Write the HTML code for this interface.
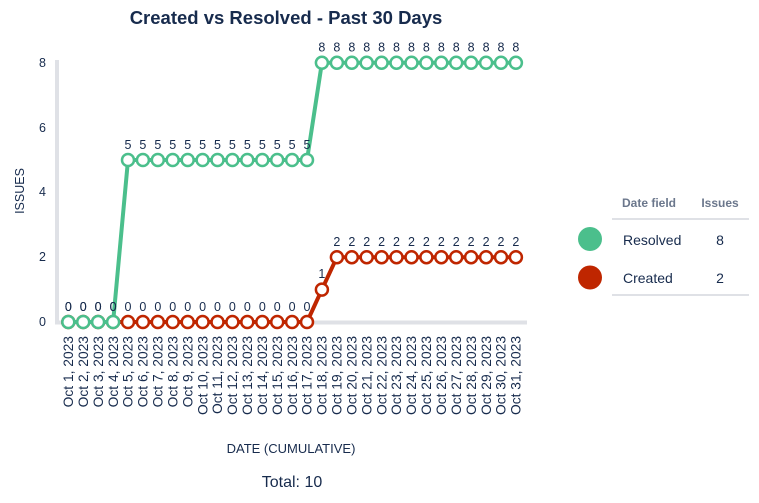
<!DOCTYPE html>
<html><head><meta charset="utf-8"><style>
html,body{margin:0;padding:0;background:#fff;}
svg{display:block;font-family:"Liberation Sans",sans-serif;}
</style></head><body>
<svg width="759" height="503" viewBox="0 0 759 503" xmlns="http://www.w3.org/2000/svg">
<text x="286" y="24" text-anchor="middle" font-size="18.5" font-weight="bold" fill="#172B4D">Created vs Resolved - Past 30 Days</text>
<!-- axes -->
<line x1="57" y1="60" x2="57" y2="323" stroke="#DFE1E6" stroke-width="4"/>
<line x1="55" y1="322.5" x2="527" y2="322.5" stroke="#DFE1E6" stroke-width="4"/>
<g font-size="12.5" fill="#172B4D" text-anchor="end">
<text x="46" y="326">0</text><text x="46" y="261">2</text><text x="46" y="196">4</text><text x="46" y="132">6</text><text x="46" y="67">8</text>
</g>
<text transform="translate(24,191) rotate(-90)" text-anchor="middle" font-size="12.5" fill="#172B4D">ISSUES</text>
<!-- red series -->
<polyline fill="none" stroke="#BF2600" stroke-width="4" stroke-linejoin="round" points="68.3,322 83.2,322 98.1,322 113.1,322 128,322 142.9,322 157.8,322 172.7,322 187.7,322 202.6,322 217.5,322 232.4,322 247.3,322 262.3,322 277.2,322 292.1,322 307,322 321.9,289.6 336.9,257.2 351.8,257.2 366.7,257.2 381.6,257.2 396.5,257.2 411.5,257.2 426.4,257.2 441.3,257.2 456.2,257.2 471.1,257.2 486.1,257.2 501,257.2 515.9,257.2"/>
<g fill="#fff" stroke="#BF2600" stroke-width="2.5">
<circle cx="68.3" cy="322" r="6"/><circle cx="83.2" cy="322" r="6"/><circle cx="98.1" cy="322" r="6"/><circle cx="113.1" cy="322" r="6"/><circle cx="128" cy="322" r="6"/><circle cx="142.9" cy="322" r="6"/><circle cx="157.8" cy="322" r="6"/><circle cx="172.7" cy="322" r="6"/><circle cx="187.7" cy="322" r="6"/><circle cx="202.6" cy="322" r="6"/><circle cx="217.5" cy="322" r="6"/><circle cx="232.4" cy="322" r="6"/><circle cx="247.3" cy="322" r="6"/><circle cx="262.3" cy="322" r="6"/><circle cx="277.2" cy="322" r="6"/><circle cx="292.1" cy="322" r="6"/><circle cx="307" cy="322" r="6"/><circle cx="321.9" cy="289.6" r="6"/><circle cx="336.9" cy="257.2" r="6"/><circle cx="351.8" cy="257.2" r="6"/><circle cx="366.7" cy="257.2" r="6"/><circle cx="381.6" cy="257.2" r="6"/><circle cx="396.5" cy="257.2" r="6"/><circle cx="411.5" cy="257.2" r="6"/><circle cx="426.4" cy="257.2" r="6"/><circle cx="441.3" cy="257.2" r="6"/><circle cx="456.2" cy="257.2" r="6"/><circle cx="471.1" cy="257.2" r="6"/><circle cx="486.1" cy="257.2" r="6"/><circle cx="501" cy="257.2" r="6"/><circle cx="515.9" cy="257.2" r="6"/>
</g>
<!-- green series -->
<polyline fill="none" stroke="#4BBF8C" stroke-width="4" stroke-linejoin="round" points="68.3,322 83.2,322 98.1,322 113.1,322 128,160 142.9,160 157.8,160 172.7,160 187.7,160 202.6,160 217.5,160 232.4,160 247.3,160 262.3,160 277.2,160 292.1,160 307,160 321.9,62.8 336.9,62.8 351.8,62.8 366.7,62.8 381.6,62.8 396.5,62.8 411.5,62.8 426.4,62.8 441.3,62.8 456.2,62.8 471.1,62.8 486.1,62.8 501,62.8 515.9,62.8"/>
<g fill="#fff" stroke="#4BBF8C" stroke-width="2.5">
<circle cx="68.3" cy="322" r="6"/><circle cx="83.2" cy="322" r="6"/><circle cx="98.1" cy="322" r="6"/><circle cx="113.1" cy="322" r="6"/><circle cx="128" cy="160" r="6"/><circle cx="142.9" cy="160" r="6"/><circle cx="157.8" cy="160" r="6"/><circle cx="172.7" cy="160" r="6"/><circle cx="187.7" cy="160" r="6"/><circle cx="202.6" cy="160" r="6"/><circle cx="217.5" cy="160" r="6"/><circle cx="232.4" cy="160" r="6"/><circle cx="247.3" cy="160" r="6"/><circle cx="262.3" cy="160" r="6"/><circle cx="277.2" cy="160" r="6"/><circle cx="292.1" cy="160" r="6"/><circle cx="307" cy="160" r="6"/><circle cx="321.9" cy="62.8" r="6"/><circle cx="336.9" cy="62.8" r="6"/><circle cx="351.8" cy="62.8" r="6"/><circle cx="366.7" cy="62.8" r="6"/><circle cx="381.6" cy="62.8" r="6"/><circle cx="396.5" cy="62.8" r="6"/><circle cx="411.5" cy="62.8" r="6"/><circle cx="426.4" cy="62.8" r="6"/><circle cx="441.3" cy="62.8" r="6"/><circle cx="456.2" cy="62.8" r="6"/><circle cx="471.1" cy="62.8" r="6"/><circle cx="486.1" cy="62.8" r="6"/><circle cx="501" cy="62.8" r="6"/><circle cx="515.9" cy="62.8" r="6"/>
</g>
<!-- data labels -->
<g font-size="12.5" fill="#172B4D" text-anchor="middle">
<text x="68.3" y="311">0</text><text x="83.2" y="311">0</text><text x="98.1" y="311">0</text><text x="113.1" y="311">0</text><text x="128" y="311">0</text><text x="142.9" y="311">0</text><text x="157.8" y="311">0</text><text x="172.7" y="311">0</text><text x="187.7" y="311">0</text><text x="202.6" y="311">0</text><text x="217.5" y="311">0</text><text x="232.4" y="311">0</text><text x="247.3" y="311">0</text><text x="262.3" y="311">0</text><text x="277.2" y="311">0</text><text x="292.1" y="311">0</text><text x="307" y="311">0</text><text x="321.9" y="278">1</text><text x="336.9" y="246">2</text><text x="351.8" y="246">2</text><text x="366.7" y="246">2</text><text x="381.6" y="246">2</text><text x="396.5" y="246">2</text><text x="411.5" y="246">2</text><text x="426.4" y="246">2</text><text x="441.3" y="246">2</text><text x="456.2" y="246">2</text><text x="471.1" y="246">2</text><text x="486.1" y="246">2</text><text x="501" y="246">2</text><text x="515.9" y="246">2</text>
<text x="68.3" y="311">0</text><text x="83.2" y="311">0</text><text x="98.1" y="311">0</text><text x="113.1" y="311">0</text><text x="128" y="149">5</text><text x="142.9" y="149">5</text><text x="157.8" y="149">5</text><text x="172.7" y="149">5</text><text x="187.7" y="149">5</text><text x="202.6" y="149">5</text><text x="217.5" y="149">5</text><text x="232.4" y="149">5</text><text x="247.3" y="149">5</text><text x="262.3" y="149">5</text><text x="277.2" y="149">5</text><text x="292.1" y="149">5</text><text x="307" y="149">5</text><text x="321.9" y="51.5">8</text><text x="336.9" y="51.5">8</text><text x="351.8" y="51.5">8</text><text x="366.7" y="51.5">8</text><text x="381.6" y="51.5">8</text><text x="396.5" y="51.5">8</text><text x="411.5" y="51.5">8</text><text x="426.4" y="51.5">8</text><text x="441.3" y="51.5">8</text><text x="456.2" y="51.5">8</text><text x="471.1" y="51.5">8</text><text x="486.1" y="51.5">8</text><text x="501" y="51.5">8</text><text x="515.9" y="51.5">8</text>
</g>
<!-- x labels -->
<g font-size="13.8" fill="#172B4D" text-anchor="end">
<text transform="translate(73,336) rotate(-90)">Oct 1, 2023</text>
<text transform="translate(87.9,336) rotate(-90)">Oct 2, 2023</text>
<text transform="translate(102.8,336) rotate(-90)">Oct 3, 2023</text>
<text transform="translate(117.8,336) rotate(-90)">Oct 4, 2023</text>
<text transform="translate(132.7,336) rotate(-90)">Oct 5, 2023</text>
<text transform="translate(147.6,336) rotate(-90)">Oct 6, 2023</text>
<text transform="translate(162.5,336) rotate(-90)">Oct 7, 2023</text>
<text transform="translate(177.4,336) rotate(-90)">Oct 8, 2023</text>
<text transform="translate(192.4,336) rotate(-90)">Oct 9, 2023</text>
<text transform="translate(207.3,336) rotate(-90)">Oct 10, 2023</text>
<text transform="translate(222.2,336) rotate(-90)">Oct 11, 2023</text>
<text transform="translate(237.1,336) rotate(-90)">Oct 12, 2023</text>
<text transform="translate(252,336) rotate(-90)">Oct 13, 2023</text>
<text transform="translate(267,336) rotate(-90)">Oct 14, 2023</text>
<text transform="translate(281.9,336) rotate(-90)">Oct 15, 2023</text>
<text transform="translate(296.8,336) rotate(-90)">Oct 16, 2023</text>
<text transform="translate(311.7,336) rotate(-90)">Oct 17, 2023</text>
<text transform="translate(326.6,336) rotate(-90)">Oct 18, 2023</text>
<text transform="translate(341.6,336) rotate(-90)">Oct 19, 2023</text>
<text transform="translate(356.5,336) rotate(-90)">Oct 20, 2023</text>
<text transform="translate(371.4,336) rotate(-90)">Oct 21, 2023</text>
<text transform="translate(386.3,336) rotate(-90)">Oct 22, 2023</text>
<text transform="translate(401.2,336) rotate(-90)">Oct 23, 2023</text>
<text transform="translate(416.2,336) rotate(-90)">Oct 24, 2023</text>
<text transform="translate(431.1,336) rotate(-90)">Oct 25, 2023</text>
<text transform="translate(446,336) rotate(-90)">Oct 26, 2023</text>
<text transform="translate(460.9,336) rotate(-90)">Oct 27, 2023</text>
<text transform="translate(475.8,336) rotate(-90)">Oct 28, 2023</text>
<text transform="translate(490.8,336) rotate(-90)">Oct 29, 2023</text>
<text transform="translate(505.7,336) rotate(-90)">Oct 30, 2023</text>
<text transform="translate(520.6,336) rotate(-90)">Oct 31, 2023</text>
</g>
<text x="291" y="453" text-anchor="middle" font-size="13" fill="#172B4D">DATE (CUMULATIVE)</text>
<text x="292" y="487" text-anchor="middle" font-size="16" fill="#172B4D">Total: 10</text>
<!-- legend -->
<text x="622" y="207" font-size="12" font-weight="bold" fill="#6B778C">Date field</text>
<text x="720" y="207" font-size="12" font-weight="bold" fill="#6B778C" text-anchor="middle">Issues</text>
<line x1="612" y1="219" x2="749" y2="219" stroke="#DFE1E6" stroke-width="2"/>
<circle cx="590" cy="239" r="12" fill="#4BBF8C"/>
<text x="623" y="245" font-size="14" fill="#172B4D">Resolved</text>
<text x="720" y="245" font-size="14" fill="#172B4D" text-anchor="middle">8</text>
<circle cx="590" cy="277.5" r="12" fill="#BF2600"/>
<text x="623" y="283" font-size="14" fill="#172B4D">Created</text>
<text x="720" y="283" font-size="14" fill="#172B4D" text-anchor="middle">2</text>
<line x1="612" y1="295" x2="749" y2="295" stroke="#DFE1E6" stroke-width="2"/>
</svg>
</body></html>
